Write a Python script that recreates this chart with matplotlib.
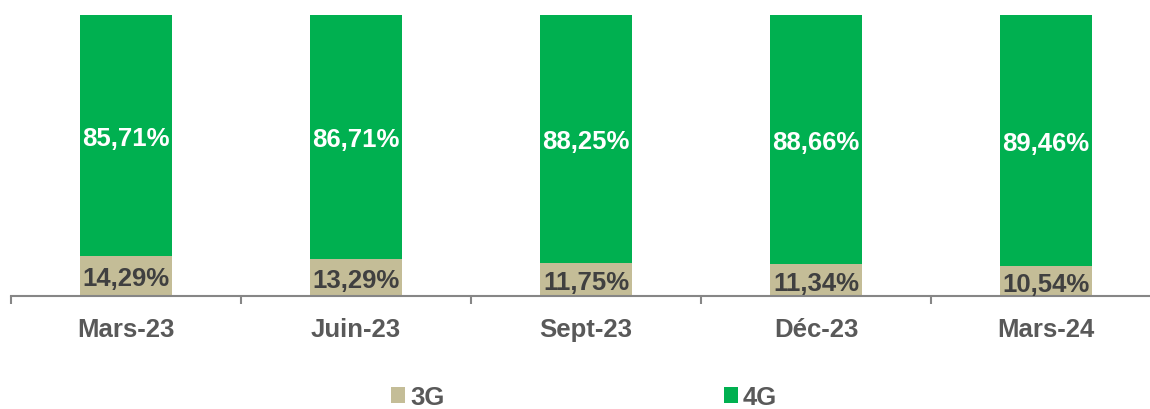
import matplotlib
matplotlib.use("Agg")
import matplotlib.pyplot as plt
import numpy as np

categories = ["Mars-23", "Juin-23", "Sept-23", "Déc-23", "Mars-24"]
share_3g = [14.29, 13.29, 11.75, 11.34, 10.54]
share_4g = [85.71, 86.71, 88.25, 88.66, 89.46]
series_names = ["3G", "4G"]

col_3g = "#C4BD97"
col_4g = "#00B050"

plt.rcParams['font.family'] = ['Liberation Sans', 'DejaVu Sans']

fig = plt.figure(figsize=(11.5, 4.1), dpi=100)
ax = fig.add_axes([11/1150, 113/410, 1150/1150, (297-16)/410])

x = np.arange(len(categories))
w = 0.40
b1 = ax.bar(x, share_3g, width=w, color=col_3g, label=series_names[0])
b2 = ax.bar(x, share_4g, width=w, bottom=share_3g, color=col_4g, label=series_names[1])

def fmt(v):
    return f"{v:.2f}".replace(".", ",") + "%"

fs = 18.5
for xi, v3, v4 in zip(x, share_3g, share_4g):
    ax.text(xi, v3/2, fmt(v3), ha='center', va='center_baseline', fontsize=fs,
            fontweight='bold', color='#404040')
    ax.text(xi, v3 + v4/2, fmt(v4), ha='center', va='center_baseline', fontsize=fs,
            fontweight='bold', color='white')

ax.set_xlim(-0.5, len(categories) - 0.5)
ax.set_ylim(0, 100)
ax.set_yticks([])
for s in ['top', 'right', 'left']:
    ax.spines[s].set_visible(False)
ax.spines['bottom'].set_color('#868686')
ax.spines['bottom'].set_linewidth(1.5)

ax.set_xticks(x)
ax.set_xticklabels(categories, fontsize=fs, fontweight='bold', color='#595959')
ax.tick_params(axis='x', length=0, pad=15)
ax.set_xticks(np.arange(len(categories) + 1) - 0.5, minor=True)
ax.tick_params(axis='x', which='minor', length=6, width=1.5, color='#868686', direction='out')

leg = fig.legend(handles=[b1, b2], labels=series_names, loc='center',
                 bbox_to_anchor=(0.508, 12/410), ncol=2, frameon=False,
                 prop={'size': fs, 'weight': 'bold'},
                 handlelength=0.55, handleheight=0.55, handletextpad=0.2,
                 columnspacing=10.85, borderpad=0.1)
for t in leg.get_texts():
    t.set_color('#595959')

fig.savefig("out.png", dpi=100)
